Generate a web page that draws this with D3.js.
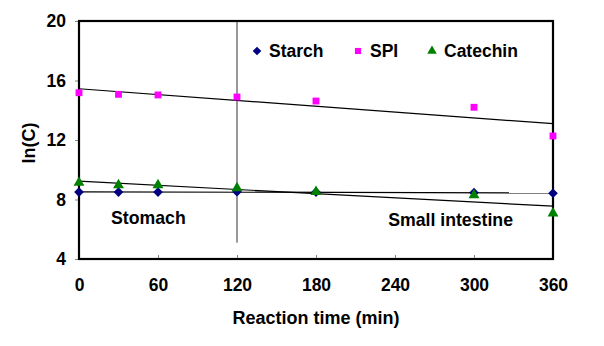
<!DOCTYPE html>
<html>
<head>
<meta charset="utf-8">
<script src="https://cdn.jsdelivr.net/npm/d3@7"></script>
<style>
  body { margin: 0; background: #fff; }
  text { font-family: "Liberation Sans", Arial, sans-serif; font-weight: bold; fill: #000; }
</style>
</head>
<body>
<script>
// data
const times = [0, 30, 60, 120, 180, 300, 360];
const starch = [8.5, 8.5, 8.5, 8.52, 8.5, 8.46, 8.42];
const spi = [15.18, 15.07, 15.03, 14.89, 14.62, 14.2, 12.27];
const catechin = [9.13, 8.97, 8.97, 8.77, 8.52, 8.3, 7.07];
const xTicks = [0, 60, 120, 180, 240, 300, 360];
const yTicks = [4, 8, 12, 16, 20];

const series = [
  { name: "Starch", values: starch, color: "#000080", shape: d3.symbolDiamond2 },
  { name: "SPI", values: spi, color: "#ff00ff", shape: d3.symbolSquare2 },
  { name: "Catechin", values: catechin, color: "#008000", shape: d3.symbolTriangle2 }
];

const width = 604;
const height = 346;
const margin = { top: 21, right: 51, bottom: 87, left: 79 };

const svg = d3.select('body')
  .append('svg')
  .attr('width', width)
  .attr('height', height);

const x = d3.scaleLinear().domain([0, 360]).range([margin.left, width - margin.right]);
const y = d3.scaleLinear().domain([4, 20]).range([height - margin.bottom, margin.top]);

// simple least squares fit for trend lines
function fit(xs, ys) {
  const mx = d3.mean(xs), my = d3.mean(ys);
  let sxy = 0, sxx = 0;
  xs.forEach((v, i) => { sxy += (v - mx) * (ys[i] - my); sxx += (v - mx) * (v - mx); });
  const b = sxy / sxx;
  return { a: my - b * mx, b };
}

// stomach / intestine divider
svg.append('line')
  .attr('x1', x(120)).attr('x2', x(120))
  .attr('y1', y(20)).attr('y2', y(5.1))
  .attr('stroke', '#333').attr('stroke-width', 1);

// trend lines
series.forEach(s => {
  const f = fit(times, s.values);
  svg.append('line')
    .attr('x1', x(0)).attr('y1', y(f.a))
    .attr('x2', x(360)).attr('y2', y(f.a + f.b * 360))
    .attr('stroke', '#000').attr('stroke-width', 1.2);
});

// axes
const xAxis = svg.append('g')
  .attr('transform', `translate(0,${y(4)})`)
  .call(d3.axisBottom(x).tickValues(xTicks).tickSize(-4).tickPadding(20));
const yAxis = svg.append('g')
  .attr('transform', `translate(${x(0)},0)`)
  .call(d3.axisLeft(y).tickValues(yTicks).tickSize(4).tickPadding(9));

[xAxis, yAxis].forEach(g => {
  g.select('.domain').remove();
  g.selectAll('.tick line').attr('stroke', '#888');
  g.selectAll('.tick text')
    .style('font-family', '"Liberation Sans", Arial, sans-serif')
    .style('font-weight', 'bold')
    .style('font-size', '17.5px')
    .attr('fill', '#000');
});

// frame
svg.append('rect')
  .attr('x', x(0)).attr('y', y(20))
  .attr('width', x(360) - x(0)).attr('height', y(4) - y(20))
  .attr('fill', 'none').attr('stroke', '#000').attr('stroke-width', 2.2);

// markers
const sym = d3.symbol();
series.forEach(s => {
  svg.append('g').selectAll('path')
    .data(times.map((t, i) => [t, s.values[i]]))
    .join('path')
    .attr('transform', d => `translate(${x(d[0])},${y(d[1])})`)
    .attr('d', sym.type(s.shape).size(s.name === 'Catechin' ? 85 : 60)())
    .attr('fill', s.color);
});

// legend
const legendX = [257, 358, 432];
series.forEach((s, i) => {
  const g = svg.append('g').attr('transform', `translate(${legendX[i]},51)`);
  g.append('path')
    .attr('d', sym.type(s.shape).size(s.name === 'Catechin' ? 65 : 48)())
    .attr('fill', s.color);
  g.append('text')
    .attr('x', 12).attr('y', 6)
    .style('font-size', '17.5px')
    .text(s.name);
});

// region labels
svg.append('text')
  .attr('x', 111).attr('y', 224)
  .style('font-size', '17.7px')
  .text('Stomach');
svg.append('text')
  .attr('x', 513).attr('y', 226)
  .attr('text-anchor', 'end')
  .style('font-size', '17.7px')
  .text('Small intestine');

// axis titles
svg.append('text')
  .attr('x', (x(0) + x(360)) / 2).attr('y', 324)
  .attr('text-anchor', 'middle')
  .style('font-size', '18px')
  .text('Reaction time (min)');
svg.append('text')
  .attr('transform', 'translate(35,143) rotate(-90)')
  .attr('text-anchor', 'middle')
  .style('font-size', '18px')
  .text('ln(C)');
</script>
</body>
</html>
